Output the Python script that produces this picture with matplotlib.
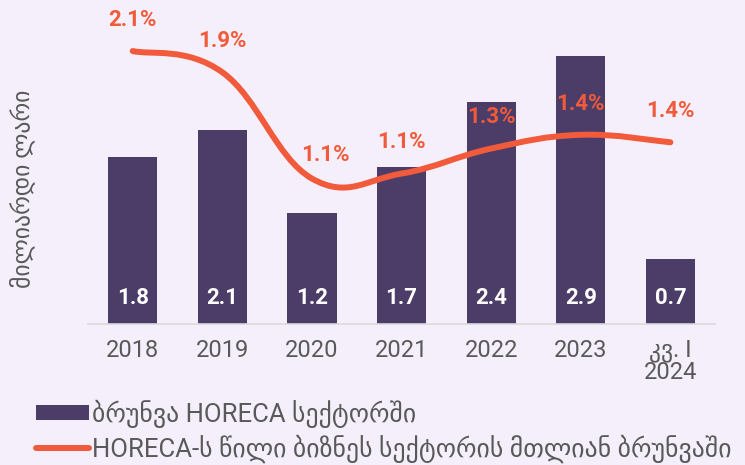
import matplotlib
matplotlib.use("Agg")
import matplotlib.pyplot as plt
import numpy as np
from matplotlib.path import Path
from matplotlib.patches import PathPatch, Patch
from matplotlib.lines import Line2D

# data
categories = ["2018", "2019", "2020", "2021", "2022", "2023", "კვ. I\n2024"]
turnover = [1.8, 2.1, 1.2, 1.7, 2.4, 2.9, 0.7]
share_pct = [2.10, 1.93, 1.08, 1.12, 1.32, 1.43, 1.37]

bar_name = "ბრუნვა HORECA სექტორში"
line_name = "HORECA-ს წილი ბიზნეს სექტორის მთლიან ბრუნვაში"
y_title = "მილიარდი ლარი"

BG = "#F4EFFA"
BAR = "#4B3C68"
LINE = "#F15A3A"
GREY = "#595959"
FONT = ["Roboto", "DejaVu Sans"]

plt.rcParams["font.family"] = FONT


def smooth_path(xs, ys, t=0.2):
    """Bezier path through the points, Excel style smoothing."""
    pts = np.column_stack([xs, ys]).astype(float)
    n = len(pts)
    verts = [pts[0]]
    codes = [Path.MOVETO]
    for i in range(n - 1):
        p0 = pts[i - 1] if i > 0 else pts[i]
        p1 = pts[i]
        p2 = pts[i + 1]
        p3 = pts[i + 2] if i + 2 < n else pts[i + 1]
        c1 = p1 + (p2 - p0) * t
        c2 = p2 - (p3 - p1) * t
        verts += [c1, c2, p2]
        codes += [Path.CURVE4] * 3
    return Path(verts, codes)


fig = plt.figure(figsize=(7.45, 4.65), dpi=100, facecolor=BG)
ax = fig.add_axes([0.118, 0.303, 0.842, 0.697], facecolor=BG)
x = np.arange(len(categories))

ax.bar(x, turnover, width=0.55, color=BAR, zorder=2)
for xi, v in zip(x, turnover):
    ax.text(xi, 0.28, f"{v:.1f}", ha="center", va="center", color="white",
            fontsize=16, fontweight="bold", zorder=3)

ax.set_xlim(-0.5, len(categories) - 0.5)
ax.set_ylim(0, 3.5)
ax.set_xticks(x)
ax.set_xticklabels(categories, fontsize=17, color=GREY, linespacing=0.9)
ax.tick_params(axis="x", length=0, pad=11)
ax.set_yticks([])
for s in ["top", "right", "left"]:
    ax.spines[s].set_visible(False)
ax.spines["bottom"].set_color("#D9D9D9")
ax.spines["bottom"].set_linewidth(1.2)

fig.text(0.0295, 0.594, y_title, rotation=90, ha="center", va="center",
         fontsize=17, color=GREY)

ax2 = ax.twinx()
ax2.set_ylim(-0.084, 2.508)
ax2.axis("off")
ax2.add_patch(PathPatch(smooth_path(x, share_pct), facecolor="none",
                        edgecolor=LINE, linewidth=4.3, capstyle="round",
                        zorder=4))

for i, (xi, v) in enumerate(zip(x, share_pct)):
    dx, dy = (9.4, 17.3) if i == 2 else (0, 22.5)
    ax2.annotate(f"{v:.1f}%", (xi, v), xytext=(dx, dy),
                 textcoords="offset points", ha="center", va="center",
                 color=LINE, fontsize=16, fontweight="bold")

handles = [Patch(facecolor=BAR, edgecolor="none"),
           Line2D([0], [0], color=LINE, linewidth=4.3,
                  solid_capstyle="round")]
fig.legend(handles, [bar_name, line_name], loc="lower left",
           bbox_to_anchor=(0.028, -0.028), frameon=False, fontsize=18.5,
           labelcolor=GREY, handlelength=2.05, handleheight=0.5,
           handletextpad=0.1, labelspacing=0.25, borderaxespad=0.2)

fig.savefig("out.png", dpi=100, facecolor=BG)
